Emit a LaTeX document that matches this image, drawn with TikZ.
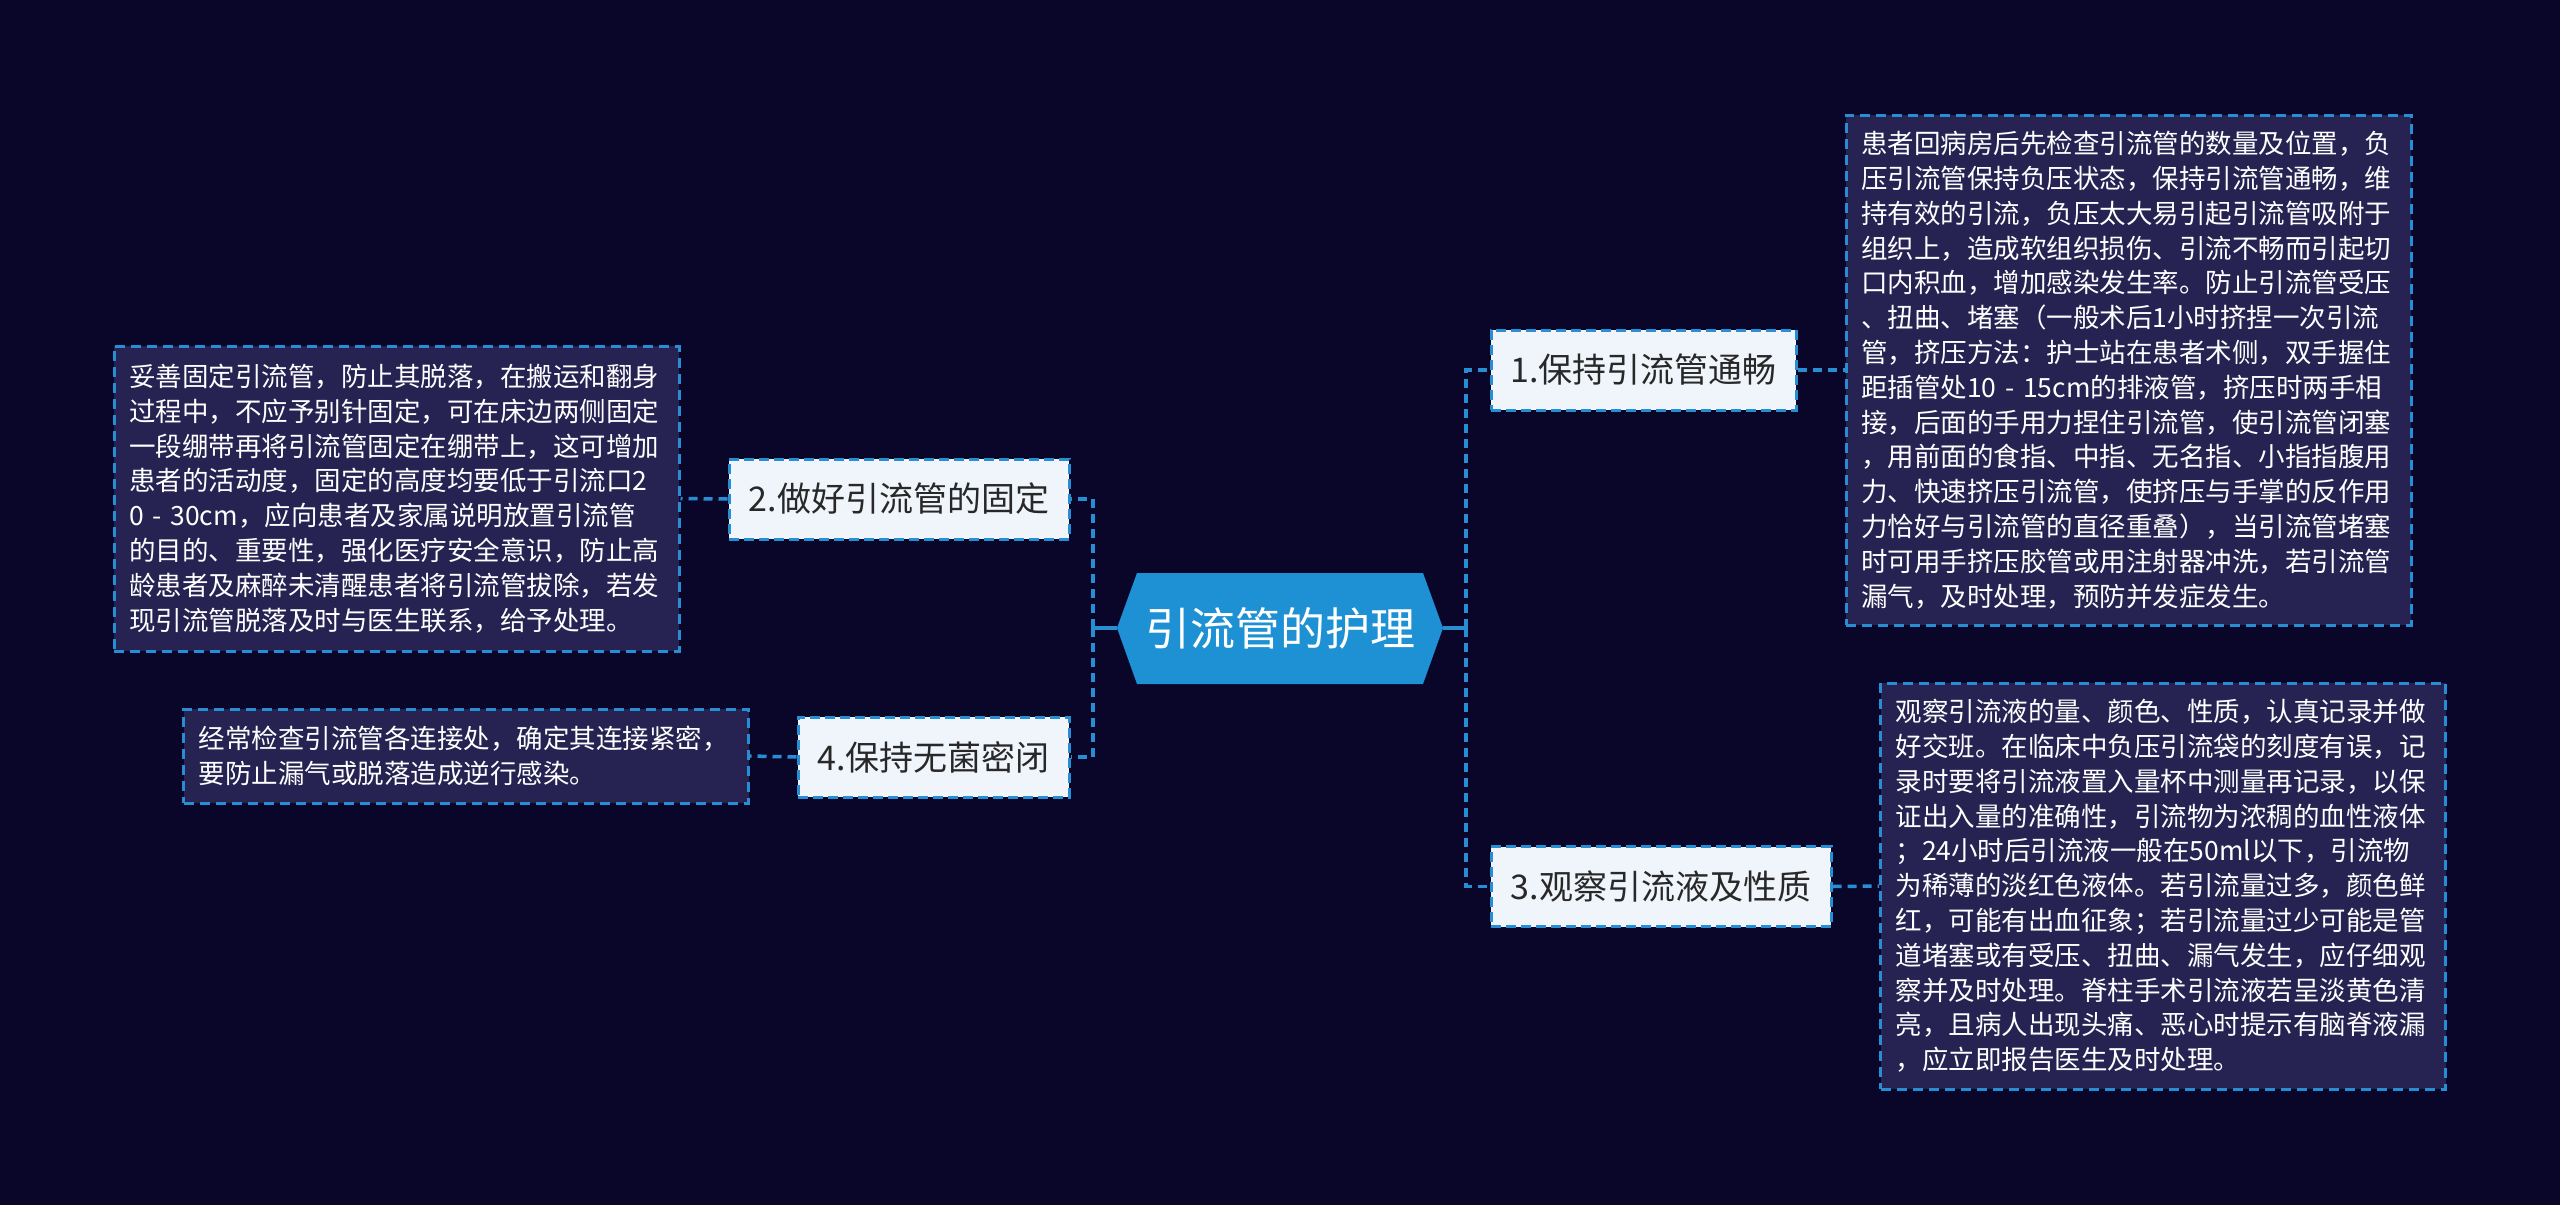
\documentclass[tikz,border=0pt]{standalone}
\usepackage{fontspec}
\setmainfont{Noto Sans CJK SC}
\definecolor{bgc}{RGB}{10,6,42}
\definecolor{boxc}{RGB}{38,35,82}
\definecolor{linec}{RGB}{40,142,212}
\definecolor{rootc}{RGB}{30,145,212}
\definecolor{nodec}{RGB}{240,245,252}
\definecolor{ntext}{RGB}{40,40,40}
\tikzset{
  conn/.style={draw=linec, line width=3.5pt, dash pattern=on 9pt off 6pt},
  connsolid/.style={draw=linec, line width=3.5pt},
  topic/.style={draw=linec, fill=nodec, line width=3pt, dash pattern=on 10pt off 5pt,
    text=ntext, font=\fontsize{34}{40}\selectfont, inner sep=0pt, minimum height=80pt},
  detail/.style={draw=linec, fill=boxc, line width=3pt, dash pattern=on 10pt off 6pt,
    text=white, font=\fontsize{26.5}{34.8}\selectfont, align=left, inner sep=0pt,
    text width=535pt, minimum width=565pt},
  roottext/.style={text=white, font=\fontsize{45}{50}\selectfont, inner sep=0pt,
    minimum width=326pt, minimum height=111pt},
}
\begin{document}
\begin{tikzpicture}[x=1pt,y=-1pt]
\fill[bgc] (0,0) rectangle (2560,1205);
\useasboundingbox (0,0) rectangle (2560,1205);

% root hexagon
\fill[rootc] (1117,628) -- (1137,573) -- (1423,573) -- (1443,628) -- (1423,684) -- (1137,684) -- cycle;
\node[roottext] (root) at (1280,628) {引流管的护理};

% topics
\node[topic, minimum width=305pt] (n1) at (1643.5,370) {1.保持引流管通畅};
\node[topic, minimum width=340pt] (n3) at (1661,886.5) {3.观察引流液及性质};
\node[topic, minimum width=340pt] (n2) at (899,499) {2.做好引流管的固定};
\node[topic, minimum width=271pt] (n4) at (933.5,757) {4.保持无菌密闭};

% details
\node[detail, minimum height=510pt] (b1) at (2128.5,370) {患者回病房后先检查引流管的数量及位置，负\\
压引流管保持负压状态，保持引流管通畅，维\\
持有效的引流，负压太大易引起引流管吸附于\\
组织上，造成软组织损伤、引流不畅而引起切\\
口内积血，增加感染发生率。防止引流管受压\\
、扭曲、堵塞（一般术后1小时挤捏一次引流\\
管，挤压方法：护士站在患者术侧，双手握住\\
距插管处10 - 15cm的排液管，挤压时两手相\\
接，后面的手用力捏住引流管，使引流管闭塞\\
，用前面的食指、中指、无名指、小指指腹用\\
力、快速挤压引流管，使挤压与手掌的反作用\\
力恰好与引流管的直径重叠），当引流管堵塞\\
时可用手挤压胶管或用注射器冲洗，若引流管\\
漏气，及时处理，预防并发症发生。};

\node[detail, minimum height=406pt] (b3) at (2163,886) {观察引流液的量、颜色、性质，认真记录并做\\
好交班。在临床中负压引流袋的刻度有误，记\\
录时要将引流液置入量杯中测量再记录，以保\\
证出入量的准确性，引流物为浓稠的血性液体\\
；24小时后引流液一般在50ml以下，引流物\\
为稀薄的淡红色液体。若引流量过多，颜色鲜\\
红，可能有出血征象；若引流量过少可能是管\\
道堵塞或有受压、扭曲、漏气发生，应仔细观\\
察并及时处理。脊柱手术引流液若呈淡黄色清\\
亮，且病人出现头痛、恶心时提示有脑脊液漏\\
，应立即报告医生及时处理。};

\node[detail, minimum height=305pt] (b2) at (396.5,498.5) {妥善固定引流管，防止其脱落，在搬运和翻身\\
过程中，不应予别针固定，可在床边两侧固定\\
一段绷带再将引流管固定在绷带上，这可增加\\
患者的活动度，固定的高度均要低于引流口2\\
0 - 30cm，应向患者及家属说明放置引流管\\
的目的、重要性，强化医疗安全意识，防止高\\
龄患者及麻醉未清醒患者将引流管拔除，若发\\
现引流管脱落及时与医生联系，给予处理。};

\node[detail, minimum height=94pt] (b4) at (466,756) {经常检查引流管各连接处，确定其连接紧密，\\
要防止漏气或脱落造成逆行感染。};

% connectors
\coordinate (jl) at (1093,628);
\coordinate (jr) at (1466,628);
\draw[connsolid] (root.west) -- (jl);
\draw[connsolid] (root.east) -- (jr);
\draw[conn] (jl) |- (n2.east);
\draw[conn] (jl) |- (n4.east);
\draw[conn] (jr) |- (n1.west);
\draw[conn] (jr) |- (n3.west);
\draw[conn] (n1.east) -- (b1.west);
\draw[conn] (n3.east) -- (b3.west);
\draw[conn] (n2.west) -- (b2.east);
\draw[conn] (n4.west) -- (b4.east);
\end{tikzpicture}
\end{document}
